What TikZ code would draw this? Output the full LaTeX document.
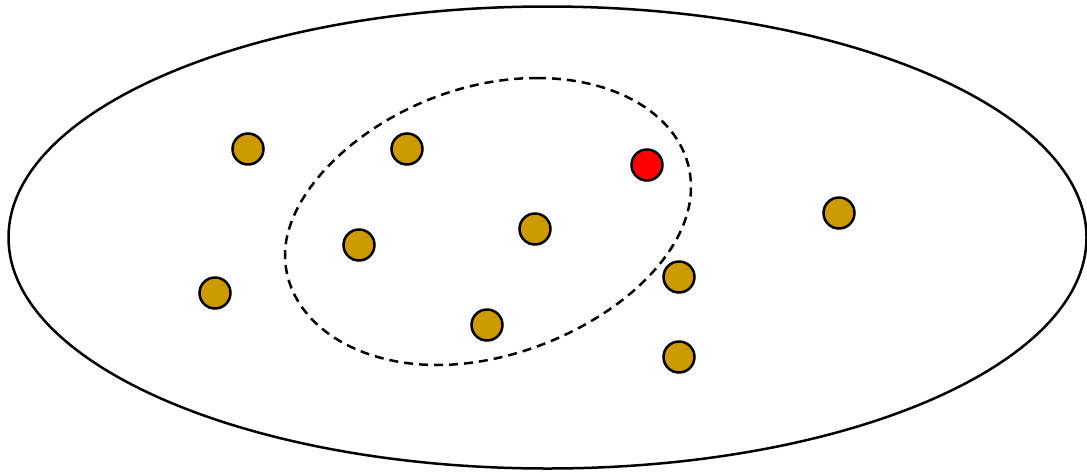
\documentclass[tikz,border=0pt]{standalone}
\definecolor{gold}{HTML}{CC9900}
\definecolor{pred}{HTML}{FF0000}
\tikzset{
  pt/.style={circle, draw=black, line width=2.5pt, fill=gold, minimum size=31pt, inner sep=0pt},
  redpt/.style={pt, fill=pred},
  outerline/.style={draw=black, line width=2.5pt},
  dashline/.style={draw=black, line width=2.5pt, dash pattern=on 9pt off 6pt}
}
\begin{document}
\begin{tikzpicture}[x=1pt,y=-1pt]
\useasboundingbox (0,0) rectangle (1087,472);
\draw[outerline] (547.5,237.5) ellipse [x radius=539, y radius=231];
\draw[dashline] (537,78)
  .. controls (626,78) and (691,124) .. (691,187)
  .. controls (691,277) and (557,365) .. (437,365)
  .. controls (349,365) and (285,317) .. (285,255)
  .. controls (285,175) and (407,78) .. (537,78) -- cycle;
\node[pt] (p1) at (248,149) {};
\node[pt] (p2) at (407,149) {};
\node[redpt] (p3) at (647,165) {};
\node[pt] (p4) at (535,229) {};
\node[pt] (p5) at (359,245) {};
\node[pt] (p6) at (215,293) {};
\node[pt] (p7) at (487,325) {};
\node[pt] (p8) at (679,277) {};
\node[pt] (p9) at (679,357) {};
\node[pt] (p10) at (839,213) {};
\end{tikzpicture}
\end{document}
